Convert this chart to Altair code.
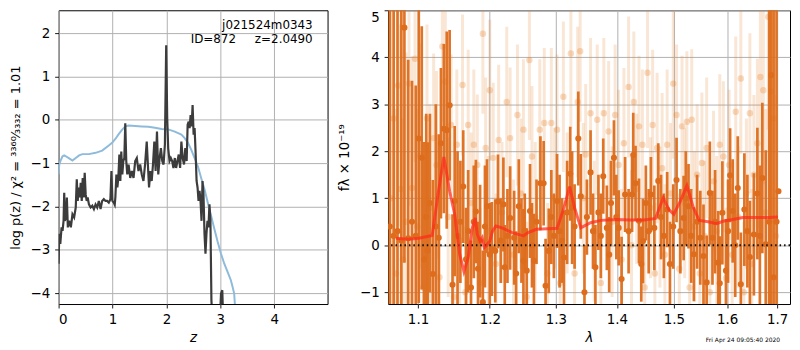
import altair as alt
import pandas as pd

# ---------------- left panel: p(z) and chi2 ----------------
pz_z = [0.000, 0.012, 0.031, 0.055, 0.073, 0.092, 0.104, 0.116, 0.135, 0.153, 0.171, 0.196,
        0.227, 0.257, 0.288, 0.318, 0.337, 0.355, 0.374, 0.392, 0.410, 0.429, 0.447, 0.465,
        0.484, 0.502, 0.521, 0.539, 0.563, 0.594, 0.625, 0.655, 0.686, 0.716, 0.747, 0.778,
        0.808, 0.839, 0.870, 0.900, 0.931, 0.961, 0.980, 0.998, 1.023, 1.041, 1.053, 1.072,
        1.090, 1.108, 1.127, 1.145, 1.163, 1.182, 1.200, 1.219, 1.237, 1.255, 1.274, 1.298,
        1.329, 1.359, 1.390, 1.421, 1.451, 1.482, 1.513, 1.543, 1.574, 1.604, 1.635, 1.653,
        1.678, 1.702, 1.727, 1.751, 1.776, 1.800, 1.825, 1.849, 1.874, 1.898, 1.923, 1.947,
        1.972, 1.996, 2.015, 2.033, 2.058, 2.082, 2.107, 2.131, 2.156, 2.180, 2.205, 2.229,
        2.254, 2.278, 2.302, 2.327, 2.351, 2.376, 2.394, 2.413, 2.431, 2.449, 2.468, 2.486,
        2.505, 2.523, 2.541, 2.560, 2.578, 2.596, 2.615, 2.633, 2.652, 2.670, 2.688, 2.707,
        2.725, 2.743, 2.762, 2.780, 2.799, 2.817, 2.835, 2.860, 2.988, 3.013, 3.037, 3.056]
pz_logp = [-3.32, -2.63, -2.86, -2.48, -2.56, -2.33, -1.68, -2.33, -2.25, -1.79, -2.48, -2.33,
           -2.48, -2.18, -2.25, -2.02, -1.37, -1.87, -1.56, -1.79, -1.45, -1.87, -1.34, -1.79,
           -1.22, -1.72, -1.87, -1.79, -1.95, -2.02, -1.98, -2.06, -1.95, -2.02, -1.87, -2.06,
           -1.87, -1.83, -1.87, -1.87, -1.91, -1.83, -1.18, -1.87, -1.91, -1.96, -1.79, -1.26,
           -1.56, -1.34, -0.80, -1.41, -0.73, -1.26, -0.95, -0.88, -0.08, -0.95, -1.26, -1.03,
           -1.34, -1.18, -1.34, -0.95, -0.88, -1.18, -1.03, -1.26, -1.41, -1.03, -0.50, -0.95,
           -1.56, -1.18, -1.41, -1.03, -0.50, -1.18, -0.27, -1.26, -0.88, -0.65, -0.95, -1.03,
           -0.57, 1.72, 0.04, -0.65, -0.95, -0.88, -0.95, -1.11, -0.88, -1.11, -0.95, -0.80,
           -1.11, -0.50, -0.88, -1.03, -0.65, -0.95, -0.11, -0.04, -0.19, 0.11, -0.15, 0.34,
           -0.34, -0.19, -0.73, -1.41, -1.56, -1.87, -1.64, -1.87, -2.33, -1.41, -1.72, -2.63,
           -3.09, -2.63, -2.33, -2.48, -1.95, -2.33, -4.16, -4.77, -4.77, -4.01, -3.93, -4.77]

chi_z = [0.000, 0.012, 0.043, 0.073, 0.104, 0.135, 0.196, 0.257, 0.318, 0.380, 0.441, 0.563,
         0.686, 0.808, 0.931, 0.992, 1.053, 1.115, 1.176, 1.237, 1.298, 1.421, 1.543, 1.666,
         1.788, 1.911, 2.033, 2.156, 2.278, 2.339, 2.400, 2.462, 2.523, 2.584, 2.645, 2.707,
         2.768, 2.829, 2.890, 2.952, 3.013, 3.074, 3.135, 3.196, 3.227, 3.258, 3.288]
chi_logp = [-1.26, -1.03, -0.92, -0.84, -0.82, -0.84, -0.89, -0.94, -0.88, -0.82, -0.79, -0.79,
            -0.76, -0.71, -0.59, -0.53, -0.44, -0.33, -0.23, -0.15, -0.13, -0.14, -0.15, -0.16,
            -0.18, -0.21, -0.22, -0.27, -0.34, -0.42, -0.53, -0.69, -0.88, -1.07, -1.34, -1.60,
            -1.91, -2.21, -2.52, -2.82, -3.09, -3.32, -3.51, -3.70, -3.85, -4.01, -4.62]

left_xticks = [0, 1, 2, 3, 4]
left_yticks = [-4, -3, -2, -1, 0, 1, 2]
title_line1 = "j021524m0343"
title_line2 = "ID=872\u00a0\u00a0\u00a0\u00a0\u00a0z=2.0490"

# ---------------- right panel: spectrum ----------------
dark_wave = [1.063, 1.068, 1.073, 1.078, 1.082, 1.087, 1.092, 1.097,
             1.101, 1.105, 1.108, 1.111, 1.113, 1.116, 1.120, 1.124, 1.128, 1.131, 1.135, 1.139,
             1.143, 1.147, 1.150, 1.154, 1.158, 1.162, 1.166, 1.169, 1.173, 1.177, 1.180, 1.183,
             1.186, 1.190, 1.193, 1.196, 1.200, 1.203, 1.208, 1.212, 1.216, 1.220, 1.222, 1.226,
             1.230, 1.236, 1.239, 1.243, 1.247, 1.250, 1.252, 1.255, 1.260, 1.263, 1.266, 1.270,
             1.276, 1.281, 1.284, 1.289, 1.293, 1.297, 1.302, 1.306, 1.310, 1.313, 1.318, 1.323,
             1.326, 1.330, 1.336, 1.340, 1.346, 1.350, 1.356, 1.360, 1.364, 1.369, 1.373, 1.377,
             1.383, 1.387, 1.390, 1.395, 1.399, 1.403, 1.408, 1.414, 1.420, 1.426, 1.428, 1.432,
             1.438, 1.442, 1.445, 1.450, 1.455, 1.459, 1.465, 1.472, 1.477, 1.482, 1.488, 1.493,
             1.499, 1.505, 1.512, 1.518, 1.522, 1.527, 1.532, 1.537, 1.543, 1.549, 1.555, 1.561,
             1.567, 1.572, 1.577, 1.583, 1.586, 1.591, 1.598, 1.602, 1.606, 1.611, 1.616, 1.621,
             1.627, 1.634, 1.640, 1.645, 1.653, 1.660, 1.665, 1.670, 1.677, 1.684, 1.688, 1.693,
             1.699, 1.703]
dark_flux = [0.40, 0.20, 0.30, 0.10, 4.63, 0.15, 0.50, 0.20,
             2.27, 1.86, -0.30, 0.60, -0.11, 0.90, -0.61, 0.40, 0.16, 2.17, 2.48, 2.45,
             2.98, -0.84, 0.94, 0.20, 0.50, 1.25, -0.30, 0.30, -0.90, 0.50, 0.72, -0.50,
             0.09, -1.21, 0.40, 0.83, -0.20, -0.08, -0.12, 0.93, 0.10, 0.87, -0.47, 0.20,
             0.58, 0.16, -0.60, 0.83, 0.10, -0.33, 0.30, -0.54, 0.73, 0.00, -0.33, 0.50,
             1.32, 1.32, -0.86, -0.12, 0.60, 0.20, 0.94, 0.30, 0.10, -0.26, 0.70, 1.52,
             0.80, 0.40, 2.27, 1.04, -1.00, 0.60, 1.55, 0.30, -0.47, 0.70, 0.20, 1.47,
             0.37, -0.20, 0.90, 1.86, 0.60, 0.37, -0.72, 1.08, 0.30, 1.08, 1.92, 1.32,
             0.52, -0.40, 0.09, 0.90, 0.30, 1.08, 0.37, 1.37, 0.60, 0.20, 0.76, -0.40,
             0.40, 1.39, 0.30, 0.58, 1.00, 0.83, 0.20, -0.19, 0.50, 0.16, -0.23, -0.79,
             1.11, 0.16, 0.50, -0.37, -0.81, 0.69, -0.54, 0.30, 1.49, 0.73, 0.00, 1.22,
             -0.83, 0.76, 0.30, -0.25, 0.23, 1.10, 0.20, 1.43, 0.02, 0.50, 3.62, -0.68,
             0.50, 1.15]
dark_err = [6.0, 5.0, 4.8, 6.0, 5.0, 3.8, 3.0, 3.2,
            3.5, 2.8, 2.5, 2.2, 2.3, 1.9, 2.0, 2.6, 2.2, 1.6, 1.8, 2.1,
            1.6, 1.5, 1.6, 1.8, 1.3, 1.2, 1.1, 1.3, 1.0, 1.2, 1.1, 1.0,
            1.2, 1.1, 1.3, 1.0, 1.1, 1.0, 1.1, 1.0, 0.9, 1.0, 0.9, 1.0,
            1.1, 1.0, 0.9, 1.0, 0.9, 1.1, 0.8, 0.9, 1.0, 0.9, 1.0, 0.9,
            1.0, 0.9, 1.0, 0.9, 1.0, 0.9, 1.0, 1.2, 0.9, 1.0, 1.1, 1.0,
            1.2, 0.9, 1.0, 0.9, 1.0, 0.8, 0.9, 0.8, 0.9, 0.8, 0.9, 0.8,
            0.9, 0.8, 0.9, 0.8, 0.9, 0.8, 0.9, 0.8, 0.9, 0.8, 0.9, 0.8,
            0.9, 0.8, 0.9, 0.8, 0.9, 0.8, 0.9, 0.8, 0.9, 0.9, 0.8, 0.9,
            0.9, 0.9, 0.9, 0.9, 1.0, 0.9, 1.0, 1.0, 1.0, 1.0, 1.1, 1.0,
            1.1, 1.0, 1.1, 1.1, 1.0, 1.1, 1.1, 1.1, 1.0, 1.1, 1.1, 1.1,
            1.1, 1.2, 1.2, 1.2, 1.3, 1.4, 1.5, 1.6, 2.0, 4.5, 5.0, 6.0,
            6.0, 0.0]

light_wave = [1.064, 1.068, 1.071, 1.074, 1.077, 1.080, 1.084, 1.088, 1.092, 1.096, 1.099, 1.103,
              1.107, 1.112, 1.116, 1.121, 1.125, 1.129, 1.133, 1.137, 1.141, 1.145, 1.149, 1.153,
              1.157, 1.161, 1.165, 1.169, 1.173, 1.177, 1.182, 1.186, 1.190, 1.194, 1.198, 1.200,
              1.205, 1.209, 1.213, 1.218, 1.225, 1.230, 1.235, 1.241, 1.246, 1.250, 1.255, 1.259,
              1.263, 1.268, 1.275, 1.282, 1.287, 1.293, 1.298, 1.302, 1.307, 1.312, 1.318, 1.324,
              1.330, 1.335, 1.339, 1.344, 1.348, 1.356, 1.362, 1.367, 1.373, 1.378, 1.386, 1.392,
              1.397, 1.403, 1.408, 1.412, 1.420, 1.425, 1.429, 1.434, 1.438, 1.444, 1.448, 1.453,
              1.458, 1.462, 1.466, 1.470, 1.475, 1.479, 1.484, 1.488, 1.494, 1.499, 1.505, 1.510,
              1.515, 1.520, 1.524, 1.529, 1.533, 1.538, 1.543, 1.548, 1.552, 1.557, 1.561, 1.567,
              1.574, 1.580, 1.586, 1.593, 1.598, 1.604, 1.610, 1.617, 1.622, 1.627, 1.633, 1.638,
              1.645, 1.649, 1.653, 1.660, 1.666, 1.672, 1.677, 1.682, 1.688, 1.693, 1.698]
light_flux = [1.00, 2.70, -0.60, 3.40, 1.20, -0.30, 0.50, 3.44, 1.22, 3.97, 0.40, 1.90,
              -0.90, 2.70, 0.80, 2.28, 1.71, -0.68, 4.23, 3.48, 0.60, 2.56, -1.10, 2.14,
              0.10, 3.41, -1.00, 2.56, 0.90, 2.14, 1.71, -0.80, 4.50, 2.07, 0.30, 3.30,
              1.86, -0.40, 2.24, 0.70, 3.05, 2.28, -0.20, 2.77, 1.10, 2.46, -1.10, 3.94,
              1.89, 0.60, 2.46, 2.60, -0.60, 2.60, 1.00, 2.46, -0.80, 3.16, 0.90, 4.08,
              -0.60, 3.05, 4.13, 1.00, 1.93, 2.81, 0.30, 2.67, -0.80, 2.81, 2.42, 0.50,
              2.77, 1.71, -0.30, 2.17, 3.37, 0.00, 3.05, 1.20, 2.53, 2.14, -0.90, 3.67,
              0.80, 2.56, -0.60, 2.07, 0.60, 1.64, -0.20, 2.14, 1.10, 3.44, 2.77, -0.50,
              2.53, 0.90, 2.63, -0.90, 2.67, 0.40, 1.50, -0.60, 1.75, 0.20, 2.07, -1.00,
              1.36, 0.30, 2.14, 1.89, -0.70, 1.71, -0.20, 2.84, 0.60, 3.55, -1.00, 1.10,
              2.81, -0.40, 1.50, 2.17, 3.58, 3.30, 0.70, 4.86, 3.27, 2.70, 0.20]
light_err = [4.5, 4.0, 3.5, 3.0, 3.5, 3.0, 3.6, 2.6, 2.8, 2.2, 2.5, 2.4,
             2.3, 2.0, 2.2, 1.8, 2.0, 1.8, 1.6, 1.5, 1.7, 1.5, 1.6, 1.6,
             1.5, 1.5, 1.4, 1.6, 1.5, 1.6, 1.5, 1.6, 1.7, 1.5, 1.6, 1.5,
             1.6, 1.5, 1.6, 1.5, 1.6, 1.5, 1.6, 1.5, 1.6, 1.5, 1.6, 1.7,
             1.5, 1.6, 1.5, 1.6, 1.5, 1.6, 1.5, 1.6, 1.5, 1.6, 1.5, 1.6,
             1.5, 1.6, 1.5, 1.6, 1.5, 1.6, 1.5, 1.6, 1.5, 1.6, 1.5, 1.6,
             1.5, 1.6, 1.5, 1.6, 1.5, 1.6, 1.5, 1.6, 1.5, 1.6, 1.5, 1.6,
             1.5, 1.6, 1.5, 1.6, 1.5, 1.6, 1.5, 1.6, 1.5, 1.6, 1.5, 1.6,
             1.5, 1.6, 1.5, 1.6, 1.5, 1.6, 1.5, 1.6, 1.5, 1.6, 1.5, 1.6,
             1.5, 1.6, 1.5, 1.6, 1.5, 1.6, 1.5, 1.6, 1.5, 1.6, 1.5, 1.6,
             1.7, 1.6, 1.7, 1.8, 1.9, 2.0, 2.2, 2.4, 2.6, 3.0, 3.0]

model_wave = [1.071, 1.0875, 1.101, 1.119, 1.127, 1.135, 1.143, 1.150, 1.157, 1.163, 1.169,
              1.175, 1.179, 1.182, 1.186, 1.189, 1.192, 1.195, 1.200, 1.204, 1.209, 1.218,
              1.233, 1.250, 1.257, 1.270, 1.287, 1.302, 1.313, 1.322, 1.330, 1.340, 1.356,
              1.373, 1.400, 1.423, 1.447, 1.467, 1.473, 1.481, 1.491, 1.500, 1.512, 1.524,
              1.536, 1.547, 1.564, 1.580, 1.592, 1.611, 1.631, 1.657, 1.684, 1.702]
model_flux = [0.15, 0.13, 0.15, 0.21, 1.08, 1.88, 1.15, 0.66, -0.19, -0.56, -0.26,
              0.37, 0.58, 0.23, 0.09, 0.16, -0.05, -0.01, 0.09, 0.30, 0.41, 0.37,
              0.27, 0.20, 0.27, 0.34, 0.35, 0.36, 0.80, 1.25, 0.80, 0.37, 0.48,
              0.53, 0.55, 0.54, 0.54, 0.57, 0.76, 1.01, 0.76, 0.66, 0.94, 1.27,
              0.80, 0.53, 0.50, 0.46, 0.51, 0.55, 0.59, 0.59, 0.59, 0.60]

right_xticks = [1.1, 1.2, 1.3, 1.4, 1.5, 1.6, 1.7]
right_yticks = [-1, 0, 1, 2, 3, 4, 5]
timestamp = "Fri Apr 24 09:05:40 2020"

FONT = "DejaVu Sans"
DARK_OR = "#dd6d1c"
LIGHT_OR = "#e8842f"

# ---------------- build left chart ----------------
pz_df = pd.DataFrame({"z": pz_z, "logp": pz_logp})
chi_df = pd.DataFrame({"z": chi_z, "logp": chi_logp})

xL = alt.X("z:Q", scale=alt.Scale(domain=[0, 4.99], nice=False, zero=False),
           axis=alt.Axis(values=left_xticks, format="d", title="z", titleFontStyle="italic"))
yL = alt.Y("logp:Q", scale=alt.Scale(domain=[-4.25, 2.53], nice=False, zero=False),
           axis=alt.Axis(values=left_yticks, format="d", titleFontSize=13,
                         title="log p(z) / χ² = ³³⁶⁰⁄₃₃₃₂ = 1.01", titlePadding=8))

chi_line = alt.Chart(chi_df).mark_line(color="#8fbbdb", strokeWidth=2, clip=True).encode(x=xL, y=yL)
pz_line = alt.Chart(pz_df).mark_line(color="#3c3c3c", strokeWidth=2.2, clip=True).encode(x=xL, y=yL)
t1 = alt.Chart(pd.DataFrame({"t": [title_line1]})).mark_text(
    align="right", baseline="middle", font=FONT, fontSize=12, color="black"
).encode(x=alt.value(256), y=alt.value(15), text="t:N")
t2 = alt.Chart(pd.DataFrame({"t": [title_line2]})).mark_text(
    align="right", baseline="middle", font=FONT, fontSize=12, color="black"
).encode(x=alt.value(256), y=alt.value(28.5), text="t:N")

left = alt.layer(chi_line, pz_line, t1, t2).properties(width=271, height=296)

# ---------------- build right chart ----------------
dark_df = pd.DataFrame({"wave": dark_wave, "flux": dark_flux, "err": dark_err})
dark_df["lo"] = dark_df["flux"] - dark_df["err"]
dark_df["hi"] = dark_df["flux"] + dark_df["err"]
light_df = pd.DataFrame({"wave": light_wave, "flux": light_flux, "err": light_err})
light_df["lo"] = light_df["flux"] - light_df["err"]
light_df["hi"] = light_df["flux"] + light_df["err"]
model_df = pd.DataFrame({"wave": model_wave, "flux": model_flux})

xR = alt.X("wave:Q", scale=alt.Scale(type="log", domain=[1.0608, 1.727], nice=False),
           axis=alt.Axis(values=right_xticks, format=".1f", title="λ", titleFontStyle="italic"))
yR_scale = alt.Scale(domain=[-1.25, 5.0], nice=False, zero=False)
yR = alt.Y("flux:Q", scale=yR_scale,
           axis=alt.Axis(values=right_yticks, format="d", title="fλ × 10⁻¹⁹", titlePadding=8,
                         labelFlush=1))

light_bars = alt.Chart(light_df).mark_rule(color=LIGHT_OR, opacity=0.2, strokeWidth=3, clip=True).encode(
    x=xR, y=alt.Y("lo:Q", scale=yR_scale), y2="hi:Q")
light_pts = alt.Chart(light_df).mark_circle(color=LIGHT_OR, opacity=0.3, size=42, clip=True).encode(x=xR, y=yR)
dark_bars = alt.Chart(dark_df).mark_rule(color=DARK_OR, opacity=0.95, strokeWidth=2.7, clip=True).encode(
    x=xR, y=alt.Y("lo:Q", scale=yR_scale), y2="hi:Q")
dark_pts = alt.Chart(dark_df).mark_circle(color=DARK_OR, opacity=1, size=38, clip=True).encode(x=xR, y=yR)
zero = alt.Chart(pd.DataFrame({"y0": [0]})).mark_rule(
    color="#111111", strokeWidth=2, strokeDash=[1.5, 3]).encode(y=alt.Y("y0:Q", scale=yR_scale))
model = alt.Chart(model_df).mark_line(color="#ff2a1a", opacity=0.72, strokeWidth=3, clip=True).encode(x=xR, y=yR)
stamp = alt.Chart(pd.DataFrame({"t": [timestamp]})).mark_text(
    align="right", baseline="middle", font=FONT, fontSize=6, color="black"
).encode(x=alt.value(395), y=alt.value(332), text="t:N")

right = alt.layer(light_bars, light_pts, dark_bars, dark_pts, zero, model, stamp).properties(width=405, height=296)

chart = alt.hconcat(left, right, spacing=8).properties(padding=0).configure_view(
    stroke="black", strokeWidth=1
).configure_axis(
    labelFont=FONT, labelFontSize=13.5, labelColor="black", labelPadding=5,
    titleFont=FONT, titleFontSize=13.5, titleFontWeight="normal", titleColor="black",
    tickColor="black", tickSize=4, tickWidth=0.9,
    domain=False, grid=True, gridColor="#b0b0b0", gridWidth=1, gridOpacity=1,
)

chart.save("out.html", embed_options={"renderer": "svg", "actions": False})
